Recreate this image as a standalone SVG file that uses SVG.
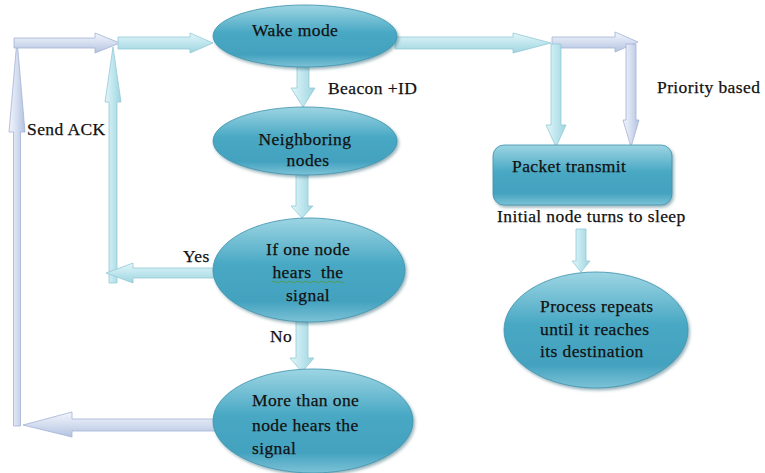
<svg xmlns="http://www.w3.org/2000/svg" width="765" height="473" viewBox="0 0 765 473">
<defs>
  <linearGradient id="gNode" x1="0" y1="0" x2="0" y2="1">
    <stop offset="0" stop-color="#9dd5e3"/>
    <stop offset="0.45" stop-color="#48a8c4"/>
    <stop offset="0.8" stop-color="#43a2bf"/>
    <stop offset="1" stop-color="#7cc2d6"/>
  </linearGradient>
  <linearGradient id="gBlueH" x1="0" y1="0" x2="0" y2="1">
    <stop offset="0" stop-color="#e4f5f8"/>
    <stop offset="0.5" stop-color="#bfe6ee"/>
    <stop offset="1" stop-color="#9fd4df"/>
  </linearGradient>
  <linearGradient id="gBlueV" x1="0" y1="0" x2="1" y2="0">
    <stop offset="0" stop-color="#e4f5f8"/>
    <stop offset="0.5" stop-color="#bfe6ee"/>
    <stop offset="1" stop-color="#9fd4df"/>
  </linearGradient>
  <linearGradient id="gLavH" x1="0" y1="0" x2="0" y2="1">
    <stop offset="0" stop-color="#f2f5fb"/>
    <stop offset="0.5" stop-color="#d5def0"/>
    <stop offset="1" stop-color="#b3c2df"/>
  </linearGradient>
  <linearGradient id="gLavV" x1="0" y1="0" x2="1" y2="0">
    <stop offset="0" stop-color="#f2f5fb"/>
    <stop offset="0.5" stop-color="#d5def0"/>
    <stop offset="1" stop-color="#b3c2df"/>
  </linearGradient>
  <filter id="sh" x="-10%" y="-10%" width="125%" height="130%">
    <feDropShadow dx="1.5" dy="2" stdDeviation="1.5" flood-color="#1d5566" flood-opacity="0.45"/>
  </filter>
</defs>
<style>
  .node { fill: url(#gNode); stroke: #3f93ad; stroke-width: 0.8; filter: url(#sh); }
  .bh { fill: url(#gBlueH); stroke: #93cad7; stroke-width: 0.8; }
  .bv { fill: url(#gBlueV); stroke: #93cad7; stroke-width: 0.8; }
  .lh { fill: url(#gLavH); stroke: #a3b3d6; stroke-width: 0.8; }
  .lv { fill: url(#gLavV); stroke: #a3b3d6; stroke-width: 0.8; }
  text { stroke: #111; stroke-width: 0.25px; }
</style>
<rect width="765" height="473" fill="#ffffff"/>

<g id="connectors">
  <path class="lv" d="M13.5,426 L13.5,132 L9,132 L17,40 L25,132 L20.5,132 L20.5,426 Z"/>
  <path class="lh" d="M14,38 L95,38 L95,33 L120,43 L95,53 L95,48 L14,48 Z"/>
  <path class="lh" d="M215,419 L72,419 L72,412 L23,425 L72,437 L72,431 L215,431 Z"/>
  <path class="bv" d="M109,283 L109,102 L105,102 L113,47 L121,102 L117,102 L117,283 Z"/>
  <path class="bh" d="M215,268 L133,268 L133,263 L106,273 L133,283 L133,278 L215,278 Z"/>
  <path class="bh" d="M118,37 L190,37 L190,33 L213,43 L190,53 L190,49 L118,49 Z"/>
  <path class="bv" d="M297,64 L297,88 L291,88 L303,107 L315,88 L309,88 L309,64 Z"/>
  <path class="bv" d="M296,174 L296,206 L291,206 L302,218 L313,206 L308,206 L308,174 Z"/>
  <path class="bv" d="M296,320 L296,358 L290,358 L302,372 L314,358 L308,358 L308,320 Z"/>
  <path class="bh" d="M395,37 L513,37 L513,33 L551,43 L513,53 L513,49 L395,49 Z"/>
  <path class="lh" d="M552,37 L615,37 L615,32 L638,42 L615,52 L615,48 L552,48 Z"/>
  <path class="bv" d="M551,44 L551,125 L546,125 L556,147 L566,125 L561,125 L561,44 Z"/>
  <path class="lv" d="M626,44 L626,120 L623,120 L631,147 L639,120 L636,120 L636,44 Z"/>
  <path class="bv" d="M576,229 L576,261 L572,261 L581,272 L590,261 L586,261 L586,229 Z"/>
</g>

<g font-family="Liberation Serif, serif" font-size="17.5" fill="#111" letter-spacing="0.4">
<g id="wake">
  <ellipse class="node" cx="305" cy="36" rx="92" ry="31"/>
  <text x="252" y="36">Wake mode</text>
</g>
<g id="neighboring">
  <ellipse class="node" cx="305" cy="141" rx="92" ry="34"/>
  <text x="305" y="145" text-anchor="middle">Neighboring</text>
  <text x="308" y="166" text-anchor="middle">nodes</text>
</g>
<g id="ifone">
  <ellipse class="node" cx="309" cy="270" rx="96" ry="52"/>
  <text x="308" y="255" text-anchor="middle">If one node</text>
  <text x="308" y="278" text-anchor="middle" xml:space="preserve">hears  the</text>
  <path d="M272,282 q2,-2 4,0 t4,0 t4,0 t4,0 t4,0 t4,0 t4,0 t4,0 t4,0 t4,0 t4,0 t4,0 t4,0 t4,0 t4,0 t4,0 t4,0 t4,0" fill="none" stroke="#4f9a3a" stroke-width="0.8"/>
  <text x="308" y="301" text-anchor="middle">signal</text>
</g>
<g id="morethan">
  <ellipse class="node" cx="313" cy="421" rx="100" ry="52"/>
  <text x="252" y="406">More than one</text>
  <text x="252" y="431">node hears the</text>
  <text x="252" y="454">signal</text>
</g>
<g id="packet">
  <rect class="node" x="493" y="145" width="179" height="60" rx="11"/>
  <text x="512" y="172">Packet transmit</text>
</g>
<g id="process">
  <ellipse class="node" cx="596" cy="330" rx="92" ry="58"/>
  <text x="540" y="312">Process repeats</text>
  <text x="540" y="335">until it reaches</text>
  <text x="540" y="357">its destination</text>
</g>
<g id="labels">
  <text x="328" y="94">Beacon +ID</text>
  <text x="657" y="93">Priority based</text>
  <text x="27" y="135">Send ACK</text>
  <text x="183" y="262">Yes</text>
  <text x="270" y="342">No</text>
  <text x="497" y="222">Initial node turns to sleep</text>
</g>
</g>
</svg>
